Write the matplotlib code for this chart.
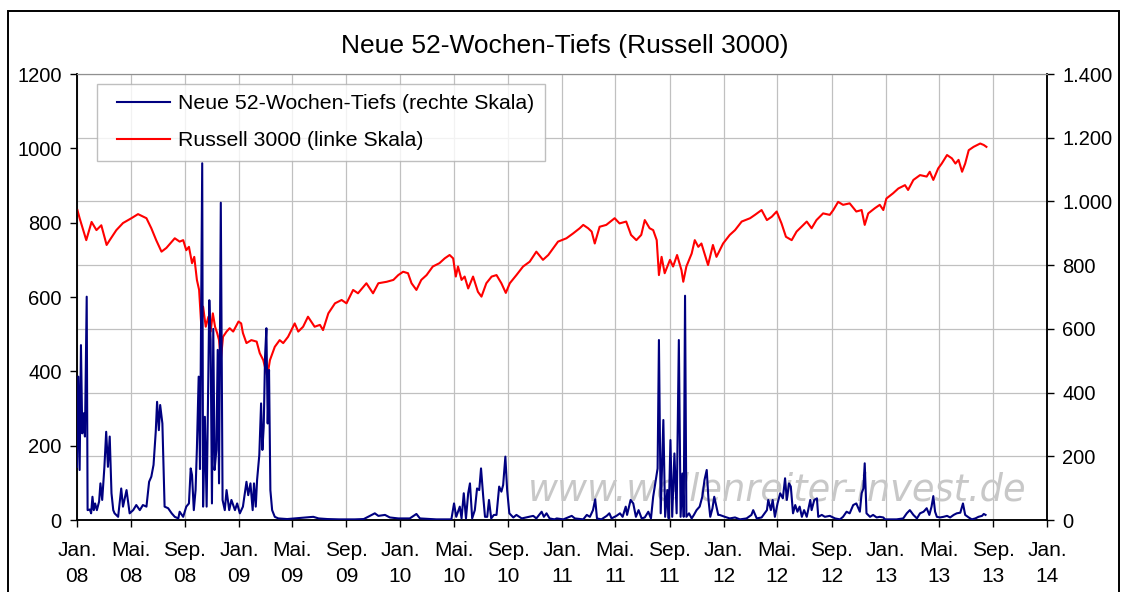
import pandas as pd
import matplotlib
matplotlib.use('Agg')
import matplotlib.pyplot as plt
from matplotlib.patches import Rectangle
from matplotlib.ticker import FuncFormatter
from matplotlib.legend_handler import HandlerLine2D

plt.rcParams['font.family'] = ['Liberation Sans', 'DejaVu Sans']

# ---texts
title = "Neue 52-Wochen-Tiefs (Russell 3000)"
lows_label = "Neue 52-Wochen-Tiefs (rechte Skala)"
index_label = "Russell 3000 (linke Skala)"
watermark = "www.wellenreiter-invest.de"
month_abbr = {1: "Jan.", 5: "Mai.", 9: "Sep."}

# ---Russell 3000 (left scale)
russell_dates = [
    "2008-01-02", "2008-01-07", "2008-01-22", "2008-02-03", "2008-02-14", "2008-02-25",
    "2008-03-08", "2008-03-15", "2008-03-30", "2008-04-14", "2008-05-03", "2008-05-18",
    "2008-06-06", "2008-06-17", "2008-06-28", "2008-07-10", "2008-07-21", "2008-08-09",
    "2008-08-20", "2008-08-28", "2008-09-04", "2008-09-10", "2008-09-17", "2008-09-22",
    "2008-09-28", "2008-10-03", "2008-10-08", "2008-10-12", "2008-10-18", "2008-10-24",
    "2008-10-29", "2008-11-03", "2008-11-08", "2008-11-13", "2008-11-17", "2008-11-21",
    "2008-11-26", "2008-12-04", "2008-12-11", "2008-12-19", "2008-12-31", "2009-01-06",
    "2009-01-10", "2009-01-18", "2009-01-29", "2009-02-10", "2009-02-17", "2009-02-25",
    "2009-03-06", "2009-03-12", "2009-03-23", "2009-04-03", "2009-04-11", "2009-04-22",
    "2009-05-07", "2009-05-15", "2009-05-26", "2009-06-06", "2009-06-21", "2009-07-03",
    "2009-07-10", "2009-07-22", "2009-08-06", "2009-08-21", "2009-09-01", "2009-09-16",
    "2009-09-27", "2009-10-16", "2009-10-31", "2009-11-12", "2009-12-01", "2009-12-16",
    "2009-12-27", "2010-01-07", "2010-01-18", "2010-01-26", "2010-02-06", "2010-02-17",
    "2010-03-01", "2010-03-15", "2010-03-30", "2010-04-11", "2010-04-22", "2010-04-30",
    "2010-05-06", "2010-05-11", "2010-05-19", "2010-05-26", "2010-06-03", "2010-06-14",
    "2010-06-25", "2010-07-03", "2010-07-14", "2010-07-26", "2010-08-06", "2010-08-17",
    "2010-08-27", "2010-09-05", "2010-09-20", "2010-10-05", "2010-10-20", "2010-11-04",
    "2010-11-19", "2010-12-01", "2010-12-12", "2010-12-23", "2011-01-11", "2011-01-26",
    "2011-02-10", "2011-02-18", "2011-03-01", "2011-03-09", "2011-03-16", "2011-03-27",
    "2011-04-11", "2011-04-30", "2011-05-11", "2011-05-26", "2011-06-06", "2011-06-18",
    "2011-06-29", "2011-07-07", "2011-07-18", "2011-07-26", "2011-08-03", "2011-08-08",
    "2011-08-14", "2011-08-21", "2011-09-02", "2011-09-09", "2011-09-18", "2011-09-28",
    "2011-10-02", "2011-10-09", "2011-10-21", "2011-10-28", "2011-11-05", "2011-11-12",
    "2011-11-20", "2011-11-27", "2011-12-08", "2011-12-16", "2011-12-31", "2012-01-15",
    "2012-01-27", "2012-02-11", "2012-03-01", "2012-03-12", "2012-03-27", "2012-04-08",
    "2012-04-19", "2012-04-30", "2012-05-11", "2012-05-21", "2012-06-03", "2012-06-14",
    "2012-06-25", "2012-07-07", "2012-07-18", "2012-07-29", "2012-08-13", "2012-08-28",
    "2012-09-05", "2012-09-16", "2012-09-27", "2012-10-12", "2012-10-27", "2012-11-08",
    "2012-11-15", "2012-11-23", "2012-12-08", "2012-12-19", "2012-12-27", "2013-01-03",
    "2013-01-18", "2013-01-30", "2013-02-14", "2013-02-21", "2013-03-05", "2013-03-20",
    "2013-04-04", "2013-04-11", "2013-04-19", "2013-04-30", "2013-05-08", "2013-05-20",
    "2013-05-31", "2013-06-08", "2013-06-15", "2013-06-23", "2013-06-30", "2013-07-08",
    "2013-07-19", "2013-08-03", "2013-08-11", "2013-08-17",
]
russell_vals = [
    834, 812, 753, 802, 780, 793,
    740, 753, 780, 799, 812, 823,
    812, 785, 753, 722, 732, 758,
    749, 753, 726, 735, 691, 708,
    646, 619, 520, 574, 520, 547,
    507, 556, 520, 502, 484, 430,
    493, 507, 516, 507, 534, 529,
    503, 476, 484, 480, 449, 430,
    386, 430, 466, 484, 476, 493,
    529, 507, 520, 547, 520, 525,
    511, 556, 583, 592, 583, 619,
    610, 637, 610, 637, 641, 646,
    659, 668, 664, 637, 619, 646,
    659, 682, 691, 704, 713, 704,
    655, 682, 646, 655, 623, 655,
    614, 601, 637, 655, 659, 637,
    611, 637, 659, 682, 695, 722,
    700, 713, 731, 749, 758, 771,
    785, 794, 785, 776, 744, 789,
    794, 812, 798, 803, 767, 753,
    767, 807, 785, 780, 753, 659,
    708, 664, 700, 682, 713, 672,
    641, 682, 717, 753, 735, 744,
    713, 686, 740, 708, 744, 767,
    780, 803, 812, 821, 834, 807,
    816, 830, 798, 762, 753, 776,
    789, 803, 785, 807, 825, 821,
    834, 856, 848, 852, 830, 834,
    794, 825, 839, 848, 834, 865,
    879, 892, 901, 888, 915, 928,
    924, 937, 915, 946, 959, 982,
    973, 959, 969, 937, 959, 995,
    1004, 1013, 1009, 1004,
]

# ---new 52-week lows (right scale)
lows_dates = [
    "2008-01-01", "2008-01-04", "2008-01-07", "2008-01-10", "2008-01-13", "2008-01-16",
    "2008-01-19", "2008-01-23", "2008-01-25", "2008-01-30", "2008-02-02", "2008-02-05",
    "2008-02-08", "2008-02-11", "2008-02-15", "2008-02-20", "2008-02-23", "2008-02-27",
    "2008-03-03", "2008-03-07", "2008-03-11", "2008-03-15", "2008-03-19", "2008-03-23",
    "2008-03-26", "2008-04-03", "2008-04-10", "2008-04-14", "2008-04-22", "2008-04-29",
    "2008-05-07", "2008-05-14", "2008-05-22", "2008-05-29", "2008-06-06", "2008-06-12",
    "2008-06-17", "2008-06-22", "2008-06-27", "2008-06-30", "2008-07-04", "2008-07-07",
    "2008-07-12", "2008-07-17", "2008-07-25", "2008-08-02", "2008-08-09", "2008-08-17",
    "2008-08-20", "2008-08-28", "2008-09-04", "2008-09-10", "2008-09-14", "2008-09-17",
    "2008-09-21", "2008-09-25", "2008-09-28", "2008-10-02", "2008-10-05", "2008-10-10",
    "2008-10-12", "2008-10-16", "2008-10-20", "2008-10-26", "2008-10-29", "2008-11-01",
    "2008-11-04", "2008-11-07", "2008-11-11", "2008-11-14", "2008-11-17", "2008-11-21",
    "2008-11-25", "2008-11-30", "2008-12-04", "2008-12-10", "2008-12-15", "2008-12-23",
    "2008-12-28", "2009-01-03", "2009-01-10", "2009-01-18", "2009-01-22", "2009-01-27",
    "2009-02-01", "2009-02-04", "2009-02-08", "2009-02-11", "2009-02-16", "2009-02-20",
    "2009-02-23", "2009-02-26", "2009-03-01", "2009-03-04", "2009-03-07", "2009-03-10",
    "2009-03-13", "2009-03-17", "2009-03-23", "2009-03-31", "2009-04-20", "2009-05-15",
    "2009-06-18", "2009-06-30", "2009-07-20", "2009-08-15", "2009-09-20", "2009-10-10",
    "2009-10-28", "2009-11-04", "2009-11-12", "2009-11-27", "2009-12-08", "2009-12-27",
    "2010-01-22", "2010-02-06", "2010-02-14", "2010-03-23", "2010-04-26", "2010-05-02",
    "2010-05-07", "2010-05-15", "2010-05-19", "2010-05-24", "2010-05-29", "2010-06-03",
    "2010-06-07", "2010-06-12", "2010-06-18", "2010-06-23", "2010-06-28", "2010-07-02",
    "2010-07-07", "2010-07-11", "2010-07-16", "2010-07-20", "2010-07-25", "2010-07-31",
    "2010-08-06", "2010-08-12", "2010-08-17", "2010-08-21", "2010-08-26", "2010-08-30",
    "2010-09-04", "2010-09-13", "2010-09-20", "2010-10-02", "2010-10-28", "2010-11-04",
    "2010-11-16", "2010-11-21", "2010-11-27", "2010-12-04", "2010-12-15", "2010-12-20",
    "2011-01-04", "2011-01-23", "2011-01-30", "2011-02-18", "2011-02-26", "2011-03-05",
    "2011-03-12", "2011-03-17", "2011-03-21", "2011-03-31", "2011-04-12", "2011-04-18",
    "2011-04-23", "2011-05-04", "2011-05-12", "2011-05-18", "2011-05-25", "2011-05-28",
    "2011-06-05", "2011-06-11", "2011-06-17", "2011-06-23", "2011-06-30", "2011-07-07",
    "2011-07-15", "2011-07-21", "2011-07-26", "2011-08-01", "2011-08-05", "2011-08-08",
    "2011-08-12", "2011-08-18", "2011-08-22", "2011-08-27", "2011-08-30", "2011-09-03",
    "2011-09-07", "2011-09-12", "2011-09-17", "2011-09-22", "2011-09-26", "2011-09-30",
    "2011-10-03", "2011-10-06", "2011-10-09", "2011-10-15", "2011-10-21", "2011-10-26",
    "2011-11-01", "2011-11-08", "2011-11-14", "2011-11-19", "2011-11-24", "2011-11-28",
    "2011-12-02", "2011-12-07", "2011-12-11", "2011-12-16", "2011-12-20", "2011-12-23",
    "2012-01-04", "2012-01-15", "2012-01-27", "2012-02-07", "2012-02-22", "2012-03-04",
    "2012-03-08", "2012-03-16", "2012-03-27", "2012-04-08", "2012-04-11", "2012-04-17",
    "2012-04-21", "2012-04-26", "2012-05-02", "2012-05-08", "2012-05-14", "2012-05-19",
    "2012-05-23", "2012-05-28", "2012-06-01", "2012-06-06", "2012-06-11", "2012-06-16",
    "2012-06-21", "2012-06-26", "2012-07-01", "2012-07-07", "2012-07-15", "2012-07-18",
    "2012-07-24", "2012-07-30", "2012-08-02", "2012-08-10", "2012-08-17", "2012-08-28",
    "2012-09-09", "2012-09-20", "2012-09-27", "2012-10-05", "2012-10-12", "2012-10-20",
    "2012-10-27", "2012-11-04", "2012-11-08", "2012-11-12", "2012-11-15", "2012-11-19",
    "2012-11-27", "2012-12-04", "2012-12-12", "2012-12-19", "2012-12-27", "2012-12-31",
    "2013-01-11", "2013-01-26", "2013-02-10", "2013-02-18", "2013-02-25", "2013-03-05",
    "2013-03-13", "2013-03-20", "2013-03-28", "2013-04-04", "2013-04-10", "2013-04-15",
    "2013-04-19", "2013-04-23", "2013-04-27", "2013-05-04", "2013-05-12", "2013-05-20",
    "2013-05-27", "2013-06-04", "2013-06-11", "2013-06-19", "2013-06-25", "2013-06-30",
    "2013-07-08", "2013-07-15", "2013-07-23", "2013-07-30", "2013-08-07", "2013-08-11",
    "2013-08-15",
]
lows_vals = [
    167, 450, 157, 549, 272, 335,
    262, 701, 31, 33, 21, 73,
    31, 52, 31, 58, 115, 63,
    167, 277, 167, 262, 84, 31,
    21, 10, 99, 42, 94, 21,
    31, 47, 31, 47, 42, 120,
    136, 173, 277, 371, 282, 361,
    303, 42, 37, 21, 10, 5,
    26, 10, 42, 52, 162, 141,
    31, 94, 225, 450, 160, 1120,
    42, 324, 42, 690, 565, 52,
    600, 157, 220, 534, 115, 996,
    63, 31, 94, 31, 63, 31,
    52, 21, 42, 120, 78, 115,
    31, 115, 42, 126, 204, 366,
    220, 293, 513, 602, 303, 471,
    94, 31, 10, 5, 3, 6,
    10, 5, 3, 2, 2, 3,
    16, 21, 13, 16, 8, 5,
    5, 19, 5, 2, 2, 52,
    10, 42, 5, 84, 5, 84,
    115, 5, 31, 99, 94, 162,
    73, 10, 10, 63, 5, 16,
    16, 105, 89, 110, 199, 94,
    21, 8, 16, 5, 13, 5,
    26, 10, 21, 5, 2, 5,
    2, 13, 5, 2, 16, 10,
    31, 65, 5, 2, 13, 21,
    5, 13, 21, 10, 42, 16,
    63, 52, 10, 31, 5, 8,
    26, 5, 73, 126, 162, 565,
    21, 314, 10, 94, 5, 251,
    10, 209, 21, 565, 10, 146,
    10, 704, 10, 21, 5, 16,
    31, 42, 73, 126, 157, 63,
    10, 37, 73, 42, 16, 16,
    10, 5, 8, 2, 5, 16,
    31, 5, 8, 31, 63, 31,
    63, 10, 52, 84, 68, 131,
    63, 115, 105, 21, 47, 26,
    42, 10, 31, 10, 63, 31,
    63, 68, 10, 16, 10, 13,
    5, 2, 10, 26, 21, 47,
    52, 26, 84, 99, 178, 21,
    10, 16, 8, 10, 8, 2,
    2, 2, 5, 21, 31, 16,
    5, 21, 26, 37, 16, 42,
    75, 26, 10, 8, 10, 13,
    8, 16, 21, 23, 52, 16,
    8, 2, 5, 10, 13, 19,
    16,
]

df_russell = pd.DataFrame({'date': pd.to_datetime(russell_dates), 'value': russell_vals})
df_lows = pd.DataFrame({'date': pd.to_datetime(lows_dates), 'value': lows_vals})

grid_c = '#c0c0c0'
fs = 15

fig = plt.figure(figsize=(11.22, 5.92), dpi=100)
ax = fig.add_axes([0.0686, 0.1216, 0.8646, 0.7534])
ax2 = ax.twinx()

# frame round the whole chart
fig.patches.append(Rectangle((0.0071, -0.02), 0.9902, 1.0014, transform=fig.transFigure,
                             fill=False, edgecolor='black', linewidth=1.4))

fig.text(0.5036, 0.922, title, ha='center', va='center', fontsize=19)

# left axis: Russell 3000, right axis: new lows
ax.set_ylim(0, 1200)
ax.set_yticks(range(0, 1201, 200))
ax2.set_ylim(0, 1400)
ax2.set_yticks(range(0, 1401, 200))
ax2.yaxis.set_major_formatter(FuncFormatter(lambda v, p: f"{int(v):,}".replace(",", ".")))

x_ticks = pd.date_range("2008-01-01", "2014-01-01", freq="4MS")
ax.set_xlim(x_ticks[0], x_ticks[-1])
ax.set_xticks(x_ticks)
ax.set_xticklabels([f"{month_abbr[d.month]}\n{d.strftime('%y')}" for d in x_ticks], linespacing=1.5)

# grid: vertical from dates, horizontal from the right scale
ax.set_axisbelow(True)
ax.grid(axis='x', color=grid_c, linewidth=0.9)
for v in ax2.get_yticks()[1:]:
    ax.axhline(v * 1200 / 1400, color=grid_c, linewidth=0.9, zorder=0.5)

ax.text(0.722, 0.068, watermark, transform=ax.transAxes, ha='center', va='center',
        fontsize=26.5, style='italic', family='DejaVu Sans', color='#c8c8c8', zorder=1)

l_red, = ax.plot(df_russell['date'], df_russell['value'], color='#ff0000', linewidth=1.5,
                 label=index_label, zorder=3)
l_blue, = ax2.plot(df_lows['date'], df_lows['value'], color='#000080', linewidth=1.5,
                   label=lows_label, zorder=3)

for a in (ax, ax2):
    a.tick_params(axis='both', labelsize=fs - 0.5, direction='out', length=5, width=1, color='black')
    a.spines['top'].set_color('#909090')
    for s in ('left', 'right', 'bottom'):
        a.spines[s].set_color('black')
        a.spines[s].set_linewidth(1.1)
ax.tick_params(axis='x', labelsize=fs, pad=10)
ax.tick_params(axis='y', pad=6)
ax2.tick_params(axis='y', pad=6)

leg = ax2.legend(handles=[l_blue, l_red], loc='upper left', bbox_to_anchor=(0.0206, 0.978),
                 fontsize=15.3, frameon=True, fancybox=False, handlelength=2.95,
                 labelspacing=0.85, borderpad=0.5, handletextpad=0.35, borderaxespad=0,
                 handler_map={l_blue: HandlerLine2D(xpad=0.42), l_red: HandlerLine2D(xpad=0.42)})
leg.get_frame().set_edgecolor('#b0b0b0')
leg.get_frame().set_linewidth(1.0)

fig.savefig('out.png', dpi=100)
